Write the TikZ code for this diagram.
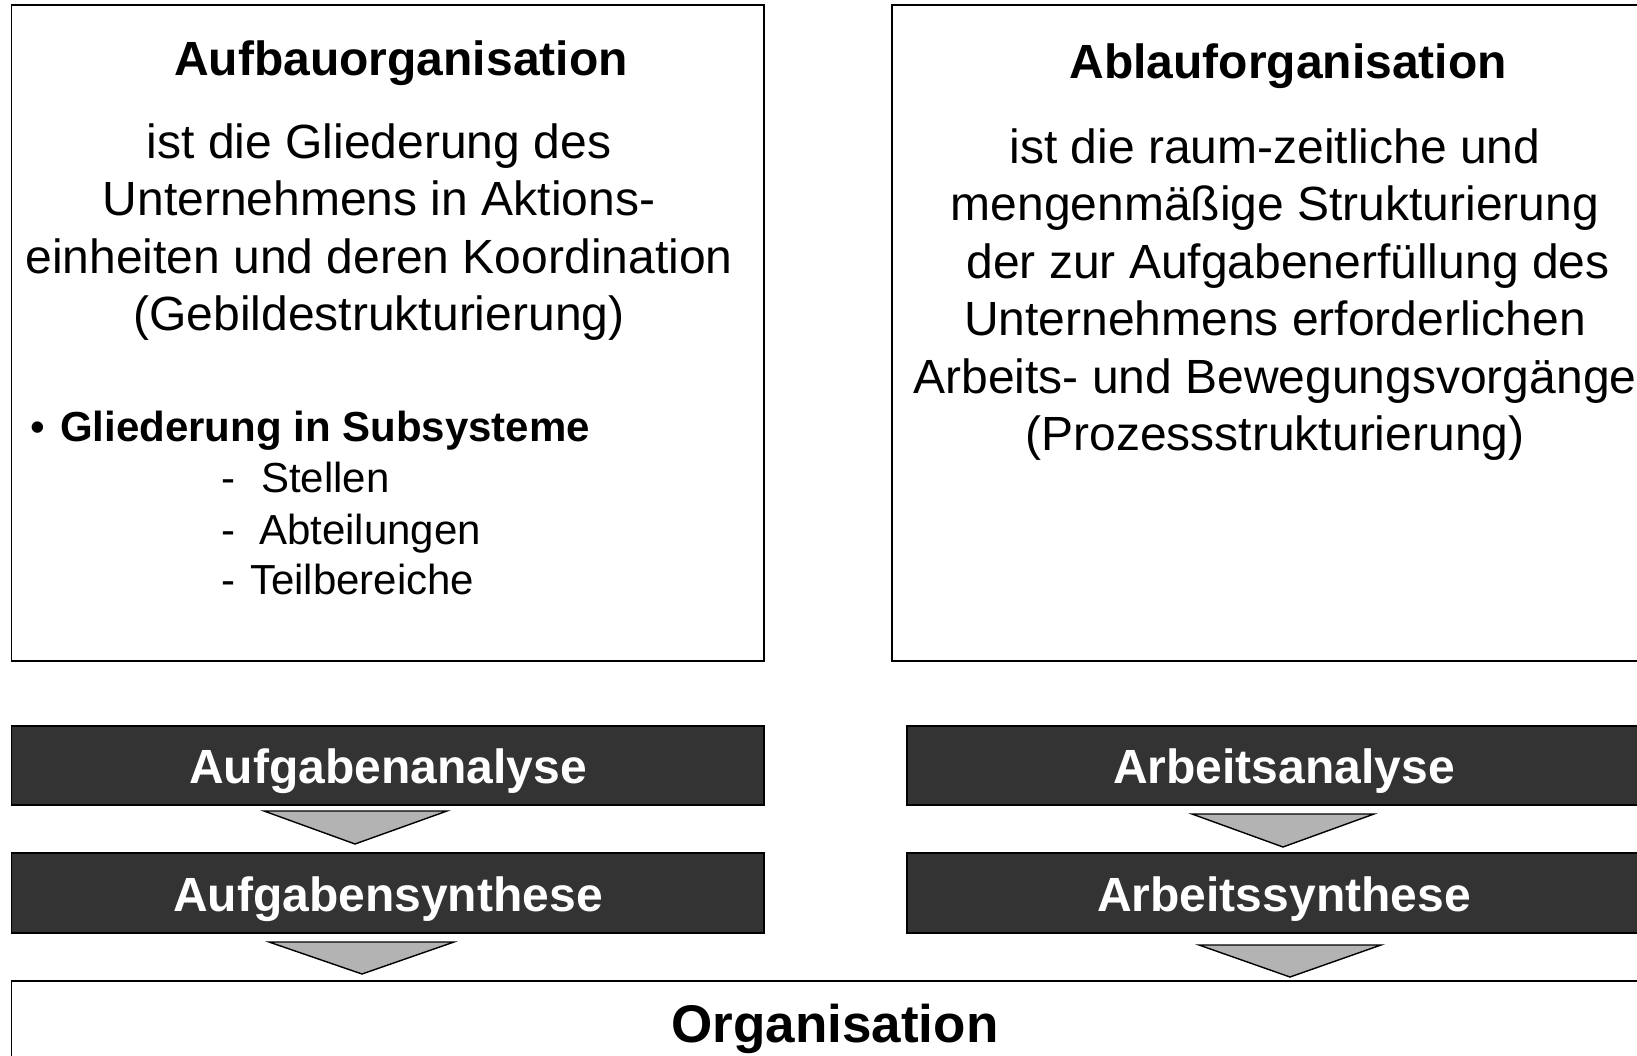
\documentclass[tikz,border=0pt]{standalone}
\usepackage{fontspec}
\setmainfont{Liberation Sans}
\definecolor{barfill}{HTML}{333333}
\definecolor{arrowfill}{HTML}{B3B3B3}
\begin{document}
\begin{tikzpicture}[x=1pt,y=-1pt,
  frame/.style={draw=black,line width=1.8pt,fill=white},
  darkbar/.style={draw=black,line width=1.8pt,fill=barfill},
  chevron/.style={draw=black,line width=1.4pt,fill=arrowfill,line join=miter},
  txt/.style={inner sep=0pt,anchor=base,font=\fontsize{48}{57.6}\selectfont},
  ttl/.style={txt,font=\fontsize{48}{57.6}\selectfont\bfseries},
  sub/.style={inner sep=0pt,anchor=base west,font=\fontsize{42}{50}\selectfont},
  bartxt/.style={txt,text=white,font=\fontsize{48}{57.6}\selectfont\bfseries}]
\clip (0,0) rectangle (1637,1055);
\fill[white] (0,0) rectangle (1637,1055);

% upper boxes
\draw[frame] (11.5,5) rectangle (764,661);
\draw[frame] (892,5) rectangle (1680,661);

% left box: Aufbauorganisation
\node[ttl] (aT) at (401,75) {Aufbauorganisation};
\node[txt] (a1) at (379,158) {ist die Gliederung des};
\node[txt] (a2) at (379,215) {Unternehmens in Aktions-};
\node[txt] (a3) at (379,273) {einheiten und deren Koordination};
\node[txt] (a4) at (379,330) {(Gebildestrukturierung)};
\node[sub] (bul) at (30,441) {•};
\node[sub,font=\fontsize{42}{50}\selectfont\bfseries] (b0) at (60,441) {Gliederung in Subsysteme};
\node[sub] (b1) at (221,492) {-\hspace{26pt}Stellen};
\node[sub] (b2) at (221,544) {-\hspace{24pt}Abteilungen};
\node[sub] (b3) at (221,594) {-\hspace{15pt}Teilbereiche};

% right box: Ablauforganisation
\node[ttl] (rT) at (1288,78) {Ablauforganisation};
\node[txt] (r1) at (1275,163) {ist die raum-zeitliche und};
\node[txt] (r2) at (1275,220) {mengenmäßige Strukturierung};
\node[txt] (r3) at (1288,278) {der zur Aufgabenerfüllung des};
\node[txt] (r4) at (1275,335) {Unternehmens erforderlichen};
\node[txt] (r5) at (1275,393) {Arbeits- und Bewegungsvorgänge};
\node[txt] (r6) at (1275,450) {(Prozessstrukturierung)};

% process bars
\draw[darkbar] (11.5,726) rectangle (764,805);
\draw[darkbar] (11.5,853) rectangle (764,933);
\draw[darkbar] (907,726) rectangle (1680,805);
\draw[darkbar] (907,853) rectangle (1680,933);
\node[bartxt] (la) at (388,783) {Aufgabenanalyse};
\node[bartxt] (ls) at (388,911) {Aufgabensynthese};
\node[bartxt] (ra) at (1284,783) {Arbeitsanalyse};
\node[bartxt] (rs) at (1284,911) {Arbeitssynthese};

% chevrons between the steps
\draw[chevron] (264,811) -- (447,811) -- (355,844) -- cycle;
\draw[chevron] (269,942) -- (454,942) -- (362,974) -- cycle;
\draw[chevron] (1192,814) -- (1374,814) -- (1283,847) -- cycle;
\draw[chevron] (1199,945) -- (1381,945) -- (1290,977) -- cycle;

% result box
\draw[frame] (11.5,981) rectangle (1680,1100);
\node[txt,font=\fontsize{53}{60}\selectfont\bfseries] (org) at (835,1042) {Organisation};
\end{tikzpicture}
\end{document}
